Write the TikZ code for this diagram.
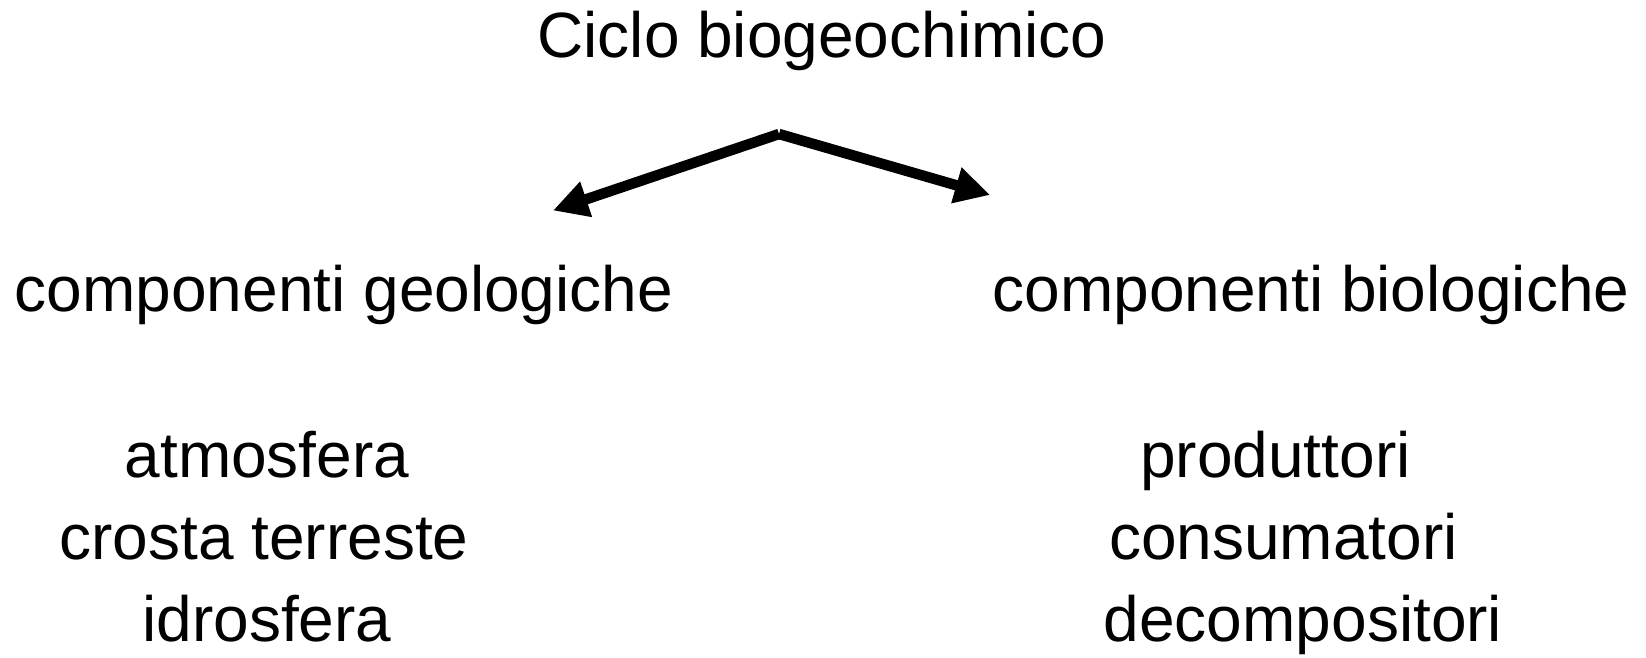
\documentclass[tikz,border=0pt]{standalone}
\usepackage{fontspec}
\setmainfont{Liberation Sans}
\usetikzlibrary{arrows.meta}
\tikzset{
  lbl/.style={inner sep=0pt, anchor=base, font=\fontsize{64}{80}\selectfont},
  conn/.style={line width=10.5pt, -{Triangle[length=35pt, width=35pt]}}
}
\begin{document}
\begin{tikzpicture}[x=1pt, y=-1pt]
\useasboundingbox (0,0) rectangle (1646,657);
\node[lbl] (title) at (822,57.5) {Ciclo biogeochimico};
\node[lbl] (geo) at (344,311) {componenti geologiche};
\node[lbl] (bio) at (1311,311) {componenti biologiche};
\node[lbl] (atm) at (267,477.5) {atmosfera};
\node[lbl] (cro) at (264,559.5) {crosta terreste};
\node[lbl] (idr) at (267,641) {idrosfera};
\node[lbl] (pro) at (1275.5,477.5) {produttori};
\node[lbl] (con) at (1283.5,559.5) {consumatori};
\node[lbl] (dec) at (1303,641) {decompositori};
\coordinate (apex) at (779,134);
\coordinate (lt) at (553,210.5);
\coordinate (rt) at (990,195);
\draw[conn] (apex) -- (lt);
\draw[conn] (apex) -- (rt);
\end{tikzpicture}
\end{document}
